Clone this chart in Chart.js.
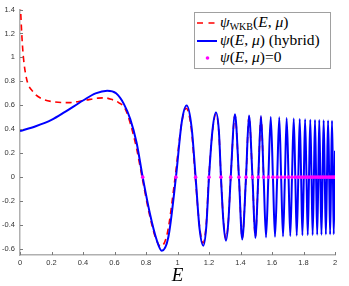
<!DOCTYPE html>
<html><head><meta charset="utf-8">
<script src="https://cdn.jsdelivr.net/npm/chart.js@4"></script>
<style>
html,body{margin:0;padding:0;background:#fff;}
#wrap{position:relative;width:349px;height:286px;}
#c{position:absolute;left:0;top:0;}
#legend{position:absolute;left:194px;top:12px;width:137px;height:57px;border:1px solid #a0a0a0;background:#fff;box-sizing:border-box;font-family:'Liberation Serif',serif;font-size:15.5px;color:#000;}
.row{position:absolute;left:0;width:135px;height:18px;}
.row svg{position:absolute;left:1px;top:7px;}
.txt{position:absolute;left:25px;top:-1px;line-height:18px;white-space:nowrap;}
.sub{font-size:10px;position:relative;top:3px;}
</style></head>
<body>
<div id="wrap">
<canvas id="c" width="349" height="286"></canvas>
<div id="legend">
  <div class="row" style="top:1px"><svg width="22" height="4"><line x1="1" y1="2" x2="21" y2="2" stroke="#ff0000" stroke-width="1.6" stroke-dasharray="6,5.5"/></svg><span class="txt"><i>ψ</i><span class="sub">WKB</span>(<i>E</i>, <i>μ</i>)</span></div>
  <div class="row" style="top:19px"><svg width="22" height="4"><line x1="1" y1="2" x2="21" y2="2" stroke="#0000ff" stroke-width="2"/></svg><span class="txt"><i>ψ</i>(<i>E</i>, <i>μ</i>) (hybrid)</span></div>
  <div class="row" style="top:36px"><svg width="22" height="4"><circle cx="11.5" cy="2" r="1.8" fill="#ff00ff"/></svg><span class="txt"><i>ψ</i>(<i>E</i>, <i>μ</i>)=0</span></div>
</div>
</div>
<script>
const hybridE = [0.000,0.100,0.200,0.286,0.400,0.480,0.554,0.610,0.660,0.700,0.740,0.779,0.825,0.868,0.900,0.942,0.990,1.027,1.058,1.090,1.115,1.140,1.164,1.183,1.200,1.222,1.244,1.263,1.276,1.292,1.308,1.323,1.338,1.365,1.390,1.411,1.435,1.454,1.476,1.494,1.513,1.530,1.547,1.562,1.577,1.592,1.606,1.619,1.633,1.646,1.658,1.670,1.682,1.693,1.705,1.716,1.727,1.738,1.748,1.757,1.767,1.776,1.785,1.793,1.802,1.810,1.819,1.827,1.835,1.843,1.851,1.858,1.866,1.873,1.880,1.887,1.894,1.900,1.907,1.914,1.921,1.928,1.935,1.942,1.949,1.956,1.963,1.969,1.975,1.981,1.987,1.992,1.998,2.000];
const hybridPsi = [0.385,0.425,0.478,0.545,0.640,0.700,0.722,0.700,0.610,0.485,0.290,0,-0.305,-0.525,-0.615,-0.500,0,0.460,0.598,0.410,0,-0.430,-0.572,-0.410,0,0.390,0.540,0.380,0,-0.380,-0.530,-0.370,0,0.526,0,-0.520,0,0.515,0,-0.508,0,0.510,0,-0.503,0,0.503,0,-0.498,0,0.500,0,-0.495,0,0.494,0,-0.492,0,0.489,0,-0.489,0,0.486,0,-0.486,0,0.483,0,-0.484,0,0.480,0,-0.482,0,0.478,0,-0.481,0,0.478,0,-0.480,0,0.475,0,-0.479,0,0.473,0,-0.478,0,0.472,0,-0.477,0,0.220];
const wkbE = [0.002,0.011,0.021,0.042,0.085,0.138,0.222,0.307,0.413,0.497,0.540,0.580,0.624,0.667,0.700,0.740,0.775,0.820,0.860,0.893,0.935,0.985,1.025,1.055,1.088,1.113,1.140,1.162,1.182,1.199,1.222,1.244,1.263,1.276,1.292,1.308,1.323,1.338,1.365,1.390,1.411,1.435,1.454,1.476,1.494,1.513,1.530,1.547];
const wkbPsi = [1.45,1.20,1.01,0.82,0.71,0.655,0.628,0.622,0.642,0.660,0.662,0.650,0.625,0.573,0.450,0.240,0,-0.300,-0.505,-0.578,-0.470,0,0.440,0.575,0.400,0,-0.410,-0.550,-0.400,0,0.380,0.525,0.370,0,-0.370,-0.515,-0.360,0,0.515,0,-0.505,0,0.505,0,-0.495,0,0.500,0];
const zeroE = [0.779,0.990,1.115,1.200,1.276,1.338,1.390,1.435,1.476,1.513,1.547,1.577,1.606,1.633,1.658,1.682,1.705,1.727,1.748,1.767,1.785,1.802,1.819,1.835,1.851,1.866,1.880,1.894,1.907,1.921,1.935,1.949,1.963,1.975,1.987,1.998];
const xTicks = [0,0.2,0.4,0.6,0.8,1,1.2,1.4,1.6,1.8,2];
const yTicks = [-0.6,-0.4,-0.2,0,0.2,0.4,0.6,0.8,1,1.2,1.4];

const toPts = (xs, ys) => xs.map((x, i) => ({x: x, y: ys[i]}));

const inTicks = {
  id: 'inTicks',
  afterDraw(chart) {
    const ctx = chart.ctx, xs = chart.scales.x, ys = chart.scales.y, a = chart.chartArea;
    ctx.save();
    ctx.strokeStyle = '#7a7a7a';
    ctx.lineWidth = 1;
    ctx.beginPath();
    xTicks.forEach(v => { const p = Math.round(xs.getPixelForValue(v)) + 0.5; ctx.moveTo(p, a.bottom); ctx.lineTo(p, a.bottom - 3); });
    yTicks.forEach(v => { const p = Math.round(ys.getPixelForValue(v)) + 0.5; ctx.moveTo(a.left, p); ctx.lineTo(a.left + 3, p); });
    ctx.stroke();
    ctx.restore();
  }
};

const tickFont = {family: "'Liberation Sans', Arial, sans-serif", size: 7.5};

new Chart(document.getElementById('c'), {
  type: 'line',
  data: {
    datasets: [
      {label: 'zeros', type: 'scatter', data: zeroE.map(x => ({x: x, y: 0})), showLine: false,
       pointRadius: 1.8, pointHoverRadius: 1.8, pointBackgroundColor: '#ff00ff', pointBorderWidth: 0, order: 1},
      {label: 'hybrid', data: toPts(hybridE, hybridPsi), borderColor: '#0000ff', borderWidth: 2,
       pointRadius: 0, cubicInterpolationMode: 'monotone', fill: false, order: 2},
      {label: 'wkb', data: toPts(wkbE, wkbPsi), borderColor: '#ff0000', borderWidth: 1.6, borderDash: [6, 4.5],
       pointRadius: 0, cubicInterpolationMode: 'monotone', fill: false, order: 3}
    ]
  },
  options: {
    responsive: false,
    animation: false,
    devicePixelRatio: 1,
    layout: {padding: {left: 0, right: 14, top: 6.6, bottom: 0}},
    plugins: {legend: {display: false}, tooltip: {enabled: false}},
    scales: {
      x: {
        type: 'linear', min: 0, max: 2,
        afterBuildTicks: s => { s.ticks = xTicks.map(v => ({value: v})); },
        afterFit: s => { s.height = 31; },
        grid: {display: false, drawTicks: false},
        border: {display: true, color: '#b0b0b0', width: 1.5},
        ticks: {font: tickFont, color: '#333333', padding: 3, maxRotation: 0, autoSkip: false, callback: v => String(v)},
        title: {display: true, text: 'E', font: {family: "'Liberation Serif', serif", size: 19, style: 'italic', lineHeight: 1}, color: '#000', padding: {top: 0, bottom: 1}}
      },
      y: {
        type: 'linear', min: -0.65, max: 1.4,
        afterBuildTicks: s => { s.ticks = yTicks.map(v => ({value: v})); },
        afterFit: s => { s.width = 20; },
        grid: {display: false, drawTicks: false},
        border: {display: true, color: '#b0b0b0', width: 1.5},
        ticks: {font: tickFont, color: '#333333', padding: 5, autoSkip: false, callback: v => String(v)}
      }
    }
  },
  plugins: [inTicks]
});
</script>
</body></html>
